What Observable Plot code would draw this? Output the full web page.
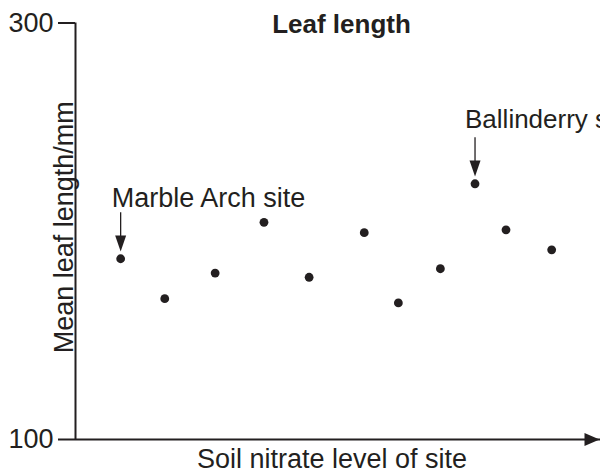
<!DOCTYPE html>
<html>
<head>
<meta charset="utf-8">
<script src="https://cdn.jsdelivr.net/npm/d3@7"></script>
<script src="https://cdn.jsdelivr.net/npm/@observablehq/plot@0.6"></script>
<style>
  html, body { margin: 0; padding: 0; background: #ffffff; }
</style>
</head>
<body>
<div id="chart"></div>
<script>
// ---- data ----
const nitrate = [8.6, 17.0, 26.6, 35.9, 44.5, 55.0, 61.5, 69.5, 76.1, 82.0, 90.7];
const leafLength = [186.8, 167.6, 179.9, 204.3, 177.9, 199.3, 165.6, 182.0, 222.8, 200.7, 191.1];
const yTicks = [100, 300];
const annotationLabels = ["Marble Arch site", "Ballinderry site"];
const annotationSites = [0, 8];
const titleText = "Leaf length";
const xLabel = "Soil nitrate level of site";
const yLabel = "Mean leaf length/mm";

const data = nitrate.map((x, i) => ({nitrate: x, length: leafLength[i]}));
const notes = annotationLabels.map((label, i) => ({label, ...data[annotationSites[i]]}));

const ink = "#231f20";
const font = "Liberation Sans, Arial, Helvetica, sans-serif";
const yTop = 300, yBottom = 100;
const pxToData = (yTop - yBottom) / 416.5;

// custom arrowhead symbols
const headDown = { draw(ctx) { ctx.moveTo(-5.5, -8); ctx.lineTo(5.5, -8); ctx.lineTo(0, 8); ctx.closePath(); } };
const headRight = { draw(ctx) { ctx.moveTo(-7.5, -6.5); ctx.lineTo(7.5, 0); ctx.lineTo(-7.5, 6.5); ctx.closePath(); } };

const chart = Plot.plot({
  width: 600,
  height: 473,
  marginLeft: 75,
  marginRight: 0,
  marginTop: 22.5,
  marginBottom: 34,
  style: { fontFamily: font, background: "#ffffff", color: ink, overflow: "hidden" },
  x: { domain: [0, 100], axis: null },
  y: { domain: [yBottom, yTop], axis: null },
  marks: [
    // y axis line
    Plot.ruleX([0], { y1: yBottom, y2: yTop, stroke: ink, strokeWidth: 2 }),
    // y ticks and labels
    Plot.axisY({
      ticks: yTicks, tickSize: 17, tickPadding: 5, stroke: ink, strokeWidth: 2,
      fontSize: 27, fill: ink, label: null
    }),
    // x axis line with arrow
    Plot.ruleY([yBottom], { stroke: ink, strokeWidth: 2 }),
    Plot.dot([0], { frameAnchor: "bottom-right", dx: -8.5, symbol: headRight, r: 5, fill: ink, stroke: null }),
    // points
    Plot.dot(data, { x: "nitrate", y: "length", r: 4.4, fill: ink, stroke: null }),
    // annotation arrows
    Plot.ruleX(notes, { x: "nitrate", y1: d => d.length + 46 * pxToData, y2: d => d.length + 20 * pxToData, stroke: ink, strokeWidth: 1.3 }),
    Plot.dot(notes, { x: "nitrate", y: "length", dy: -15.3, symbol: headDown, r: 5, fill: ink, stroke: null }),
    // annotation labels
    Plot.text([notes[0]], { x: "nitrate", y: "length", text: "label", dx: -9, dy: -60.2, textAnchor: "start", lineAnchor: "middle", fontSize: 27, fill: ink }),
    Plot.text([notes[1]], { x: "nitrate", y: "length", text: "label", dx: -10, dy: -63.6, textAnchor: "start", lineAnchor: "middle", fontSize: 26, fill: ink }),
    // title
    Plot.text([titleText], { frameAnchor: "top", dx: 3.5, dy: 1.9, textAnchor: "middle", lineAnchor: "middle", fontSize: 26, fontWeight: "bold", fill: ink }),
    // axis labels
    Plot.text([xLabel], { frameAnchor: "bottom", dx: -6, dy: 19.4, textAnchor: "middle", lineAnchor: "middle", fontSize: 27, fill: ink }),
    Plot.text([yLabel], { frameAnchor: "left", dx: -10.9, dy: -4, rotate: -90, textAnchor: "middle", lineAnchor: "middle", fontSize: 27, fill: ink })
  ]
});
document.getElementById("chart").appendChild(chart);
</script>
</body>
</html>
